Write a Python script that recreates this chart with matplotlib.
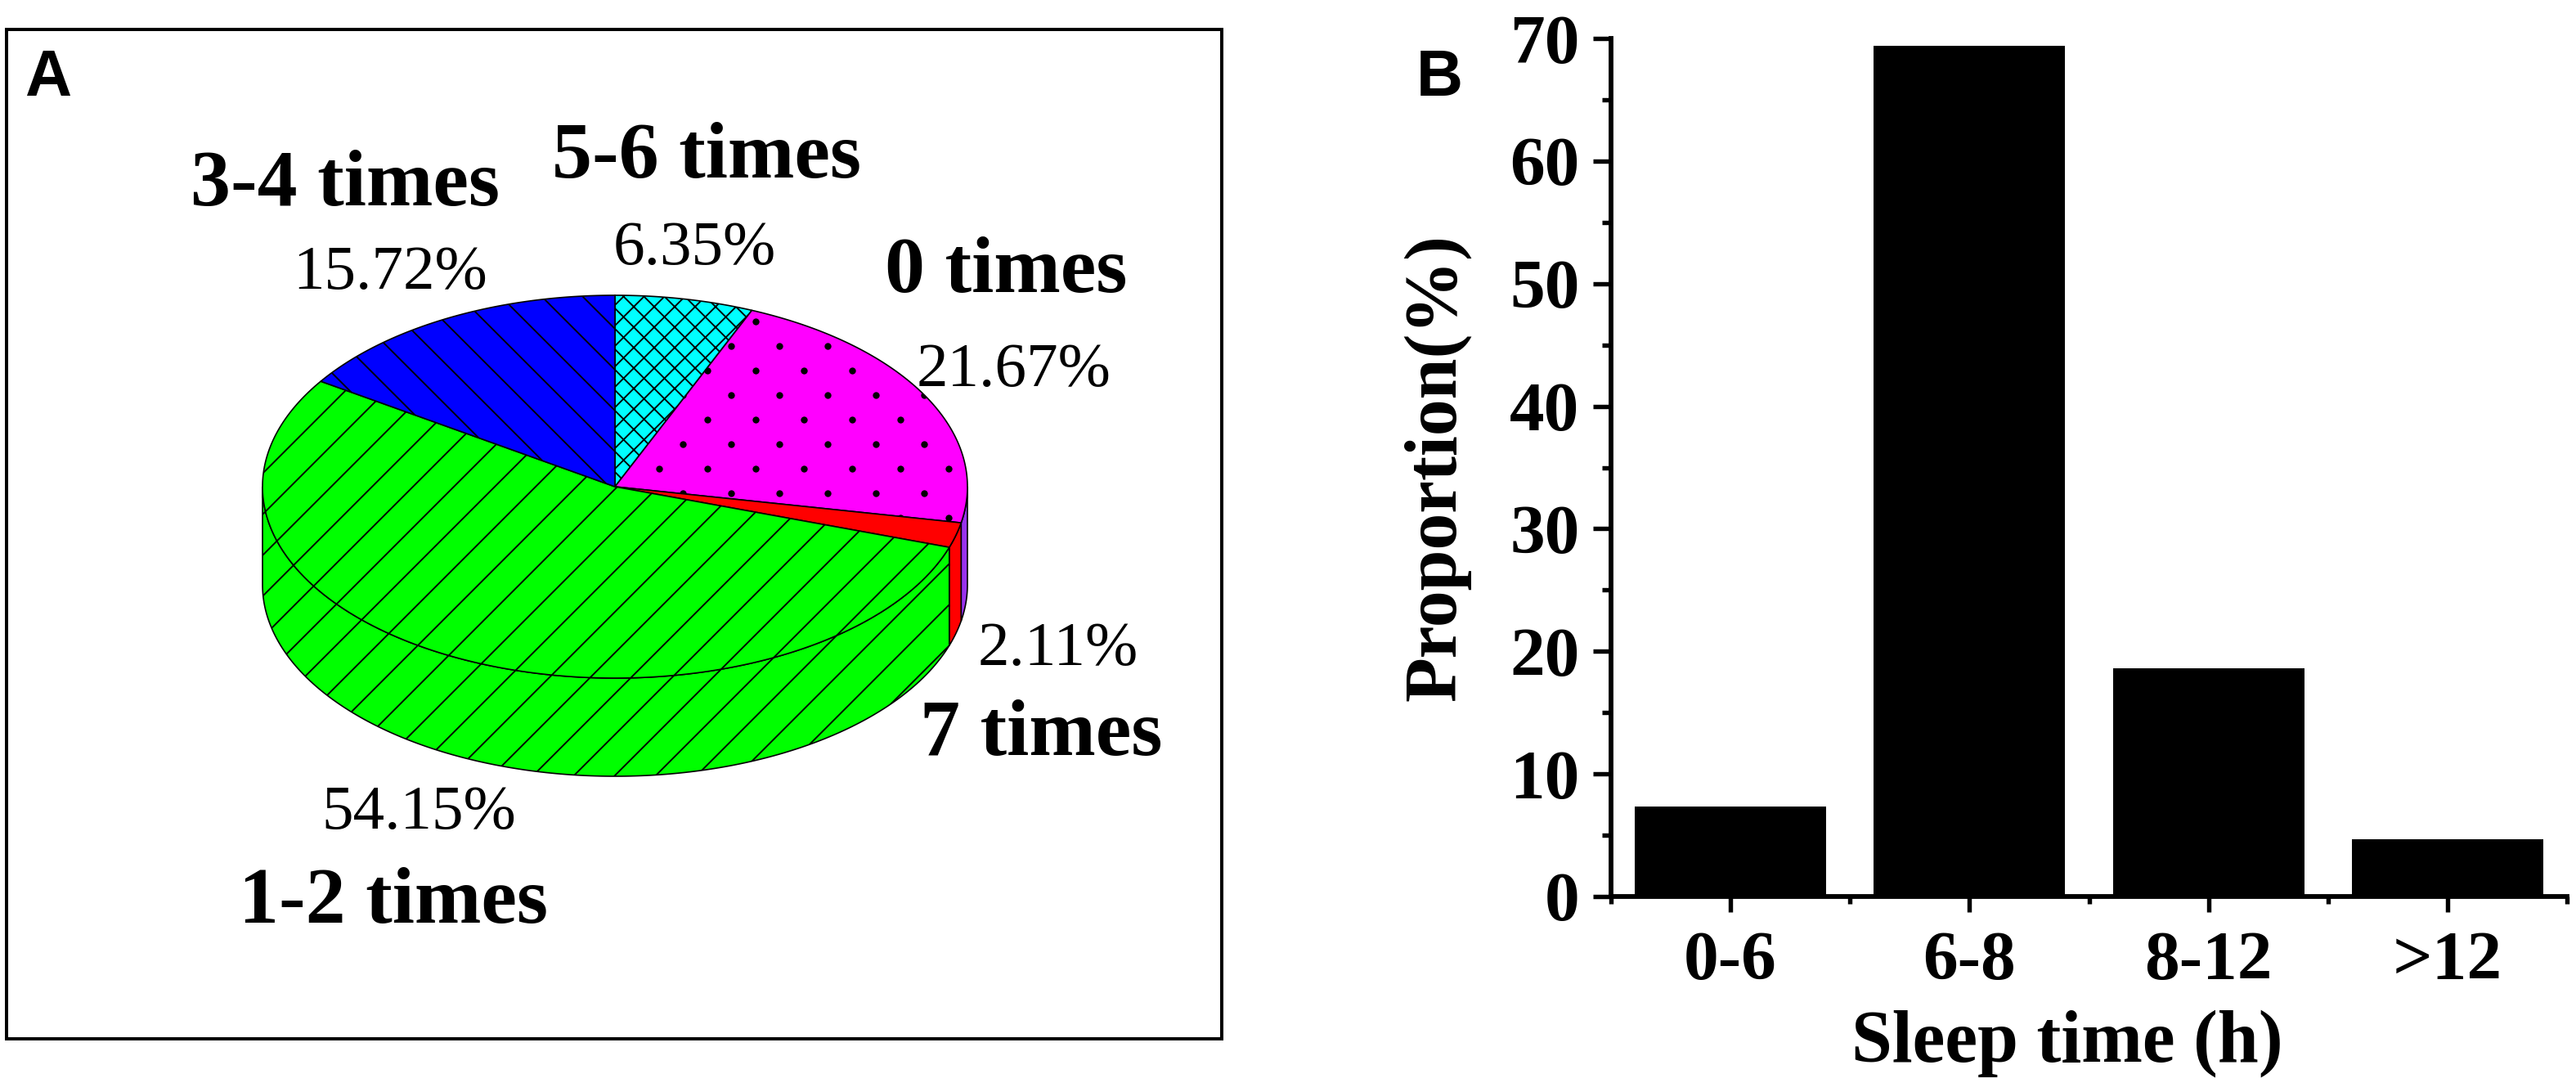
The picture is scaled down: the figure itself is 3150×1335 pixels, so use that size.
import numpy as np
import matplotlib.pyplot as plt
from matplotlib.patches import Polygon

# A: how often per week (3D pie), clockwise from 12 o'clock
freq_labels = ["5-6 times", "0 times", "7 times", "1-2 times", "3-4 times"]
freq_pct = [6.35, 21.67, 2.11, 54.15, 15.72]

# B: sleep time distribution
sleep_groups = ["0-6", "6-8", "8-12", ">12"]
sleep_pct = [7.35, 69.4, 18.6, 4.65]

top_colors = ["#00ffff", "#ff00ff", "#ff0000", "#00ff00", "#0000ff"]
side_colors = ["#00ffff", "#9933ee", "#ff0000", "#00ff00", "#0000ff"]
hatches = ["xx", None, None, "/", "\\"]

# where the labels sit (pixel centre x, baseline y), name then percent
name_pos = [(864, 217), (1230, 357), (1273, 923), (481, 1128), (422, 251)]
pct_pos = [(849, 323), (1240, 472), (1294, 813), (512, 1013), (477, 353)]

W, H, DPI = 3150, 1335, 150
SERIF = "Liberation Serif"
plt.rcParams["font.family"] = [SERIF, "DejaVu Serif"]
plt.rcParams["hatch.linewidth"] = 0.9

fig = plt.figure(figsize=(W / DPI, H / DPI), dpi=DPI)


def px_axes(x0, y0, x1, y1):
    # axes box given in image pixels, origin top-left
    return fig.add_axes([x0 / W, 1 - y1 / H, (x1 - x0) / W, (y1 - y0) / H])


# ---------------- panel A ----------------
axA = px_axes(8, 36, 1494, 1270)
axA.set_xlim(8, 1494)
axA.set_ylim(1270, 36)
axA.set_xticks([])
axA.set_yticks([])
for sp in axA.spines.values():
    sp.set_linewidth(1.9)

cx, cy, a, b, depth = 752, 595, 431, 234, 120


def ell(t):
    t = np.radians(t)
    return cx + a * np.cos(t), cy - b * np.sin(t)


bounds = 90 - 360 * np.concatenate([[0], np.cumsum(freq_pct)]) / 100

# front side walls first
for i in range(len(freq_pct)):
    t_hi, t_lo = bounds[i], bounds[i + 1]
    for k in (-360, 0, 360):
        s_hi = min(t_hi, k)
        s_lo = max(t_lo, k - 180)
        if s_hi > s_lo:
            ts = np.linspace(s_hi, s_lo, 200)
            x, y = ell(ts)
            pts = np.r_[np.c_[x, y], np.c_[x[::-1], y[::-1] + depth]]
            axA.add_patch(Polygon(pts, closed=True, fc=side_colors[i], ec="black",
                                  lw=0.8, hatch=hatches[i], zorder=2))

# top faces
tops = []
for i in range(len(freq_pct)):
    ts = np.linspace(bounds[i], bounds[i + 1], 300)
    x, y = ell(ts)
    pts = np.r_[[[cx, cy]], np.c_[x, y]]
    p = Polygon(pts, closed=True, fc=top_colors[i], ec="black", lw=0.8,
                hatch=hatches[i], zorder=3)
    axA.add_patch(p)
    tops.append(p)

# sparse dot texture on the "0 times" slice
dx, dy = 59, 30
gx, gy = [], []
for r in range(-16, 3):
    off = dx / 2 if r % 2 else 0
    cols = 894 + off + dx * np.arange(-6, 10)
    gx.extend(cols)
    gy.extend([603 + dy * r] * len(cols))
dots = axA.scatter(gx, gy, s=16, c="black", lw=0, zorder=4)
dots.set_clip_path(tops[1])

for i, lab in enumerate(freq_labels):
    axA.text(*name_pos[i], lab, ha="center", va="baseline", fontsize=47,
             fontweight="bold", zorder=5)
    axA.text(*pct_pos[i], f"{freq_pct[i]:.2f}%", ha="center", va="baseline",
             fontsize=37, fontweight="normal", zorder=5)

fig.text(30 / W, 1 - 117 / H, "A", fontsize=38, fontweight="bold",
         family="Liberation Sans", ha="left", va="baseline")

# ---------------- panel B ----------------
axB = px_axes(1970, 47, 3139, 1096)
xpos = np.arange(len(sleep_groups))
axB.bar(xpos, sleep_pct, width=0.8, color="black", zorder=1)
axB.set_xlim(-0.5, 3.5)
axB.set_ylim(0, 70)
axB.spines[["top", "right"]].set_visible(False)
for side in ("left", "bottom"):
    axB.spines[side].set_linewidth(2.8)
    axB.spines[side].set_zorder(3)

axB.set_yticks(np.arange(0, 71, 10))
axB.set_yticks(np.arange(5, 70, 10), minor=True)
axB.set_xticks(xpos, sleep_groups)
axB.set_xticks(np.arange(-0.5, 3.6, 1), minor=True)
axB.tick_params(axis="y", which="major", length=10.5, width=2.6, pad=8, labelsize=41)
axB.tick_params(axis="y", which="minor", length=5.5, width=2.6)
axB.tick_params(axis="x", which="major", length=9, width=2.6, pad=11, labelsize=41)
axB.tick_params(axis="x", which="minor", length=4.5, width=2.6)
for t in axB.get_xticklabels() + axB.get_yticklabels():
    t.set_fontweight("bold")

axB.set_xlabel("Sleep time (h)", fontsize=43, fontweight="bold")
axB.xaxis.set_label_coords((2528 - 1970) / 1169, -(1234 - 1096) / 1049)
axB.set_ylabel("Proportion(%)", fontsize=43, fontweight="bold")
axB.yaxis.set_label_coords(-(1970 - 1798) / 1169, 0.5)

fig.text(1732 / W, 1 - 117 / H, "B", fontsize=38, fontweight="bold",
         family="Liberation Sans", ha="left", va="baseline")

fig.savefig("out.png", dpi=DPI)
